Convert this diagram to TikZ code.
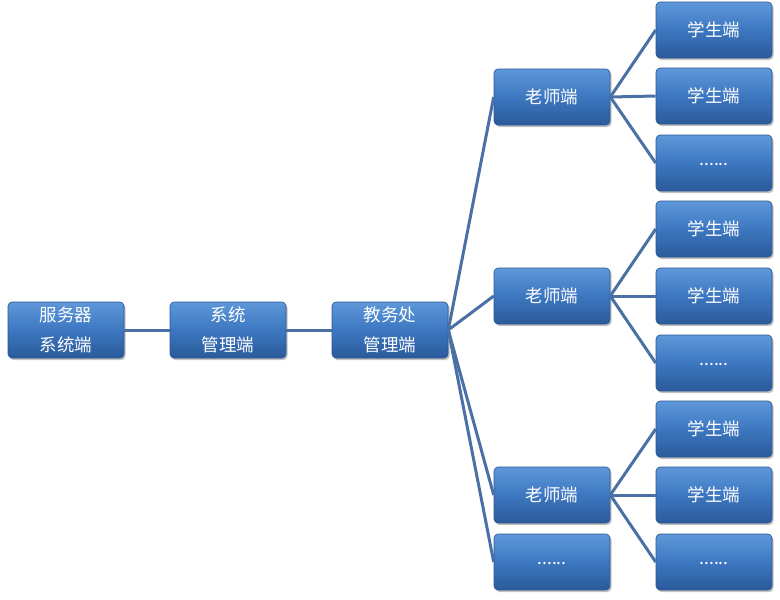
\documentclass[tikz,border=0pt]{standalone}
\usepackage{fontspec}
\newfontfamily\cjk{Noto Sans CJK SC}
\usetikzlibrary{shadows}
\definecolor{boxtop}{HTML}{5E98DA}
\definecolor{boxmid}{HTML}{3D77C0}
\definecolor{boxbot}{HTML}{2A5A9A}
\definecolor{boxedge}{HTML}{2B5690}
\definecolor{linkc}{HTML}{4A70A6}
\newcommand{\mydots}{\raisebox{-6pt}{......}}
\tikzset{
  box/.style={draw=boxedge, line width=0.6pt, rounded corners=4pt,
    top color=boxtop, bottom color=boxbot, middle color=boxmid,
    minimum width=116pt, minimum height=56pt, inner sep=0pt,
    text=white, font=\cjk\fontsize{17.5}{30}\selectfont, align=center,
    drop shadow={shadow xshift=1.5pt, shadow yshift=-2pt, opacity=0.35, fill=black!70}},
  link/.style={draw=linkc, line width=3pt}
}
\begin{document}
\begin{tikzpicture}[x=1pt,y=-1pt]
\useasboundingbox (0,0) rectangle (780,600);
\node[box] (root) at (66,330) {服务器\\系统端};
\node[box] (sys) at (228,330) {系统\\管理端};
\node[box] (jw) at (390,330) {教务处\\管理端};
\node[box] (t1) at (552,97) {老师端};
\node[box] (t2) at (552,296) {老师端};
\node[box] (t3) at (552,495) {老师端};
\node[box] (t4) at (552,562) {\mydots};
\node[box] (s11) at (714,30) {学生端};
\node[box] (s12) at (714,96) {学生端};
\node[box] (s13) at (714,163) {\mydots};
\node[box] (s21) at (714,229) {学生端};
\node[box] (s22) at (714,296) {学生端};
\node[box] (s23) at (714,363) {\mydots};
\node[box] (s31) at (714,429) {学生端};
\node[box] (s32) at (714,495) {学生端};
\node[box] (s33) at (714,562) {\mydots};
\draw[link] (root.east) -- (sys.west);
\draw[link] (sys.east) -- (jw.west);
\foreach \t in {t1,t2,t3,t4} \draw[link] (jw.east) -- (\t.west);
\foreach \i in {1,2,3} {
  \foreach \j in {1,2,3} \draw[link] (t\i.east) -- (s\i\j.west);
}
\end{tikzpicture}
\end{document}
